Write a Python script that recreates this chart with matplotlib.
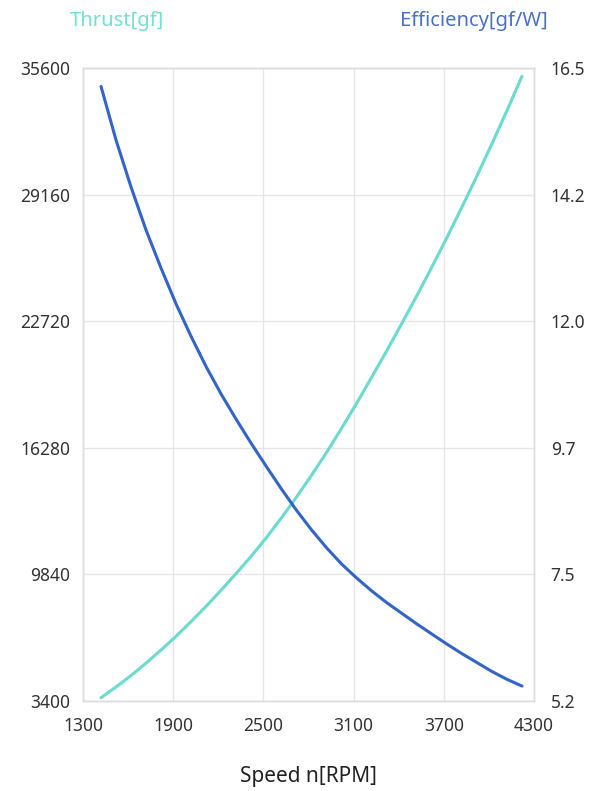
import matplotlib
matplotlib.use("Agg")
import matplotlib.pyplot as plt

# every 100 rpm
speed_rpm = [1420, 1520, 1620, 1720, 1820, 1920, 2020, 2120, 2220, 2320,
             2420, 2520, 2620, 2720, 2820, 2920, 3020, 3120, 3220, 3320,
             3420, 3520, 3620, 3720, 3820, 3920, 4020, 4120, 4220]
thrust_gf = [3550, 4095, 4680, 5310, 5980, 6680, 7430, 8210, 9030, 9880,
             10760, 11700, 12700, 13760, 14870, 16030, 17260, 18530, 19860, 21200,
             22590, 24000, 25460, 26960, 28510, 30100, 31740, 33430, 35180]
efficiency_gfw = [16.17, 15.21, 14.37, 13.60, 12.92, 12.28, 11.70, 11.16, 10.67, 10.22,
                  9.79, 9.38, 8.98, 8.60, 8.25, 7.93, 7.64, 7.39, 7.16, 6.95,
                  6.76, 6.57, 6.39, 6.21, 6.04, 5.88, 5.72, 5.58, 5.46]

x_ticks = [1300, 1900, 2500, 3100, 3700, 4300]
thrust_ticks = [3400, 9840, 16280, 22720, 29160, 35600]
eff_ticks = [5.2, 7.46, 9.72, 11.98, 14.24, 16.5]
eff_tick_labels = ["5.2", "7.5", "9.7", "12.0", "14.2", "16.5"]

THRUST_COLOR = "#6adbcf"
EFF_COLOR = "#3364c8"
GRID_COLOR = "#e6e6e6"
TEXT_COLOR = "#333333"

plt.rcParams["font.family"] = ["Noto Sans", "DejaVu Sans"]

fig = plt.figure(figsize=(6.0, 7.91), dpi=100)
ax = fig.add_axes([83 / 600, 1 - 700.6 / 791, 451 / 600, 632.6 / 791])
ax2 = ax.twinx()

ax.plot(speed_rpm, thrust_gf, color=THRUST_COLOR, lw=2.2,
        solid_capstyle="round", solid_joinstyle="round", zorder=3)
ax2.plot(speed_rpm, efficiency_gfw, color=EFF_COLOR, lw=2.2,
         solid_capstyle="round", solid_joinstyle="round", zorder=3)

ax.set_xlim(x_ticks[0], x_ticks[-1])
ax.set_ylim(thrust_ticks[0], thrust_ticks[-1])
ax2.set_ylim(eff_ticks[0], eff_ticks[-1])

ax.set_xticks(x_ticks)
ax.set_xticklabels([str(v) for v in x_ticks])
ax.set_yticks(thrust_ticks)
ax.set_yticklabels([str(v) for v in thrust_ticks])
ax2.set_yticks(eff_ticks)
ax2.set_yticklabels(eff_tick_labels)

ax.grid(True, color=GRID_COLOR, lw=1.0)
ax.set_axisbelow(True)

for a in (ax, ax2):
    for spine in a.spines.values():
        spine.set_color("#dddddd")
        spine.set_linewidth(1.0)

ax.tick_params(axis="x", length=0, pad=12, labelsize=12.5, colors=TEXT_COLOR)
ax.tick_params(axis="y", length=0, pad=9, labelsize=12.5, colors=TEXT_COLOR)
ax2.tick_params(axis="y", length=0, pad=12, labelsize=12.5, colors=TEXT_COLOR)

ax.set_xlabel("Speed n[RPM]", fontsize=15, color="#222222", labelpad=22)

fig.text(117 / 600, 1 - 21 / 791, "Thrust[gf]", color="#74dfd3", fontsize=14.5,
         ha="center", va="center")
fig.text(474 / 600, 1 - 21 / 791, "Efficiency[gf/W]", color="#4a70cc", fontsize=14.5,
         ha="center", va="center")

fig.savefig("out.png", dpi=100)
